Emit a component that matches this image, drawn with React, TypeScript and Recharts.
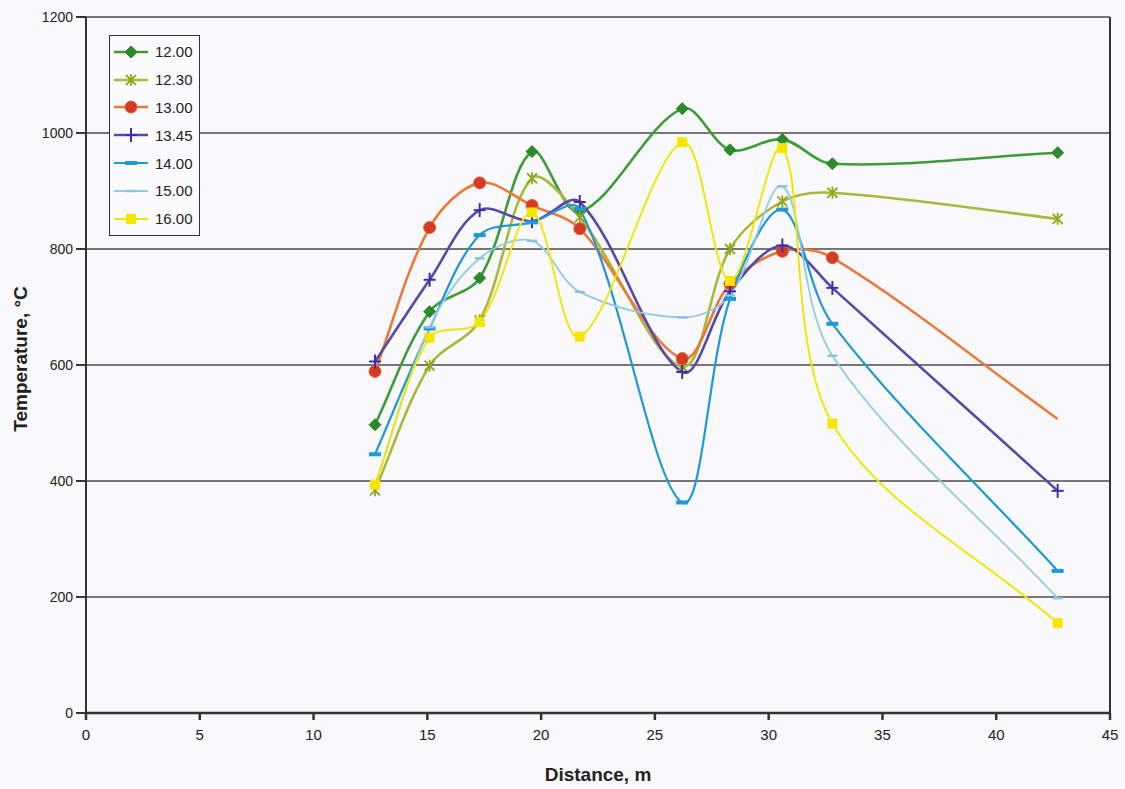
import React from "react";
import { CartesianGrid, Label, Legend, Line, LineChart, ReferenceLine, XAxis, YAxis } from "recharts";

// distance along the flue, m (same stations for every time)
const distance = [12.7, 15.1, 17.3, 19.6, 21.7, 26.2, 28.3, 30.6, 32.8, 42.7];

// temperatures, °C
const t1200 = [497, 692, 750, 968, 864, 1042, 971, 989, 947, 966];
const t1230 = [384, 599, 677, 922, 855, 597, 800, 882, 897, 852];
const t1300 = [589, 837, 914, 875, 835, 611, 740, 796, 785, 507];
const t1345 = [606, 747, 867, 848, 881, 588, 727, 806, 733, 383];
const t1400 = [446, 663, 824, 846, 869, 363, 714, 868, 671, 245];
const t1500 = [392, 665, 784, 814, 726, 682, 720, 908, 616, 198];
const t1600 = [394, 647, 674, 863, 649, 984, 745, 974, 499, 155];

const xTicks = [0, 5, 10, 15, 20, 25, 30, 35, 40, 45];
const yTicks = [0, 200, 400, 600, 800, 1000, 1200];

type Shape = "diamond" | "star" | "circle" | "plus" | "dash" | "thinDash" | "square";

interface SeriesDef {
  key: string;
  name: string;
  values: number[];
  stroke: string;
  width: number;
  marker: string;
  shape: Shape;
  noMarkerAtEnd?: boolean;
}

const series: SeriesDef[] = [
  { key: "s1200", name: "12.00", values: t1200, stroke: "#3c9c3a", width: 2.6, marker: "#2a8a2c", shape: "diamond" },
  { key: "s1230", name: "12.30", values: t1230, stroke: "#aab83a", width: 2.6, marker: "#8ea81e", shape: "star" },
  // the scan shows no marker on the last 13.00 point
  { key: "s1300", name: "13.00", values: t1300, stroke: "#e97a3c", width: 2.6, marker: "#d43a26", shape: "circle", noMarkerAtEnd: true },
  { key: "s1345", name: "13.45", values: t1345, stroke: "#5a48a8", width: 2.6, marker: "#3a2fb0", shape: "plus" },
  { key: "s1400", name: "14.00", values: t1400, stroke: "#1f98d5", width: 2.2, marker: "#1f98d5", shape: "dash" },
  { key: "s1500", name: "15.00", values: t1500, stroke: "#92cbe6", width: 1.8, marker: "#86c2e2", shape: "thinDash" },
  { key: "s1600", name: "16.00", values: t1600, stroke: "#f2e500", width: 1.9, marker: "#f5e600", shape: "square" },
];

const rows = distance.map((x, i) => {
  const row: { [k: string]: number } = { x };
  series.forEach((s) => {
    row[s.key] = s.values[i];
  });
  return row;
});

// smoothed line through every point, tangents weighted by chord length
// (keeps short segments from overshooting next to long ones, like Excel does)
const excelSmooth = (context: any) => {
  let pts: number[][] = [];
  const dist = (a: number[], b: number[]) => Math.hypot(b[0] - a[0], b[1] - a[1]);
  return {
    areaStart() {},
    areaEnd() {},
    lineStart() {
      pts = [];
    },
    lineEnd() {
      if (!pts.length) return;
      context.moveTo(pts[0][0], pts[0][1]);
      const n = pts.length;
      const tan = pts.map((p, i) => {
        const a = pts[i - 1] || p;
        const b = pts[i + 1] || p;
        return [b[0] - a[0], b[1] - a[1], dist(a, p), dist(p, b)];
      });
      for (let i = 0; i < n - 1; i++) {
        const p1 = pts[i];
        const p2 = pts[i + 1];
        const t1 = tan[i];
        const t2 = tan[i + 1];
        const f1 = t1[3] / (t1[2] + t1[3] || 1) / 3;
        const f2 = t2[2] / (t2[2] + t2[3] || 1) / 3;
        context.bezierCurveTo(
          p1[0] + t1[0] * f1,
          p1[1] + t1[1] * f1,
          p2[0] - t2[0] * f2,
          p2[1] - t2[1] * f2,
          p2[0],
          p2[1]
        );
      }
    },
    point(x: number, y: number) {
      pts.push([+x, +y]);
    },
  };
};

const Marker = ({ shape, cx, cy, color }: { shape: Shape; cx: number; cy: number; color: string }) => {
  switch (shape) {
    case "diamond":
      return <polygon points={`${cx},${cy - 6} ${cx + 6},${cy} ${cx},${cy + 6} ${cx - 6},${cy}`} fill={color} stroke={color} strokeWidth={1} />;
    case "star":
      return (
        <g stroke={color} strokeWidth={1.8}>
          <line x1={cx - 5} y1={cy - 5} x2={cx + 5} y2={cy + 5} />
          <line x1={cx - 5} y1={cy + 5} x2={cx + 5} y2={cy - 5} />
          <line x1={cx} y1={cy - 6} x2={cx} y2={cy + 6} />
        </g>
      );
    case "circle":
      return <circle cx={cx} cy={cy} r={6} fill={color} stroke="#e0602e" strokeWidth={1} />;
    case "plus":
      return (
        <g stroke={color} strokeWidth={2}>
          <line x1={cx - 6} y1={cy} x2={cx + 6} y2={cy} />
          <line x1={cx} y1={cy - 7} x2={cx} y2={cy + 7} />
        </g>
      );
    case "dash":
      return <rect x={cx - 6} y={cy - 2} width={12} height={4} fill={color} />;
    case "thinDash":
      return <rect x={cx - 5} y={cy - 1.2} width={10} height={2.4} fill={color} />;
    case "square":
      return <rect x={cx - 5} y={cy - 5} width={10} height={10} fill={color} />;
    default:
      return null;
  }
};

const font = "'Liberation Sans', Arial, Helvetica, sans-serif";

const LegendBox = () => (
  <div
    style={{
      border: "1.5px solid #333",
      background: "#fbfbfd",
      padding: "2px 6px 2px 3px",
      width: 80,
    }}
  >
    {series.map((s) => (
      <div key={s.key} style={{ display: "flex", alignItems: "center", height: 27.8 }}>
        <svg width={36} height={16} style={{ display: "block" }}>
          <line x1={1} y1={8} x2={35} y2={8} stroke={s.stroke} strokeWidth={s.width} />
          <Marker shape={s.shape} cx={18} cy={8} color={s.marker} />
        </svg>
        <span style={{ marginLeft: 6, fontFamily: font, fontSize: 15, color: "#222" }}>{s.name}</span>
      </div>
    ))}
  </div>
);

const YTitle = () => (
  <text
    x={20}
    y={359}
    transform="rotate(-90, 20, 359)"
    textAnchor="middle"
    dominantBaseline="central"
    fontFamily={font}
    fontWeight="bold"
    fontSize={19}
    fill="#222"
  >
    Temperature, °C
  </text>
);

const App = () => {
  return (
    <div style={{ position: "absolute", left: 0, top: 0, width: 1125, height: 789, background: "#f9f9fb" }}>
      <LineChart width={1125} height={789} data={rows} margin={{ top: 17, right: 15, left: 0, bottom: 0 }}>
        <CartesianGrid vertical={false} stroke="#4a4a4a" strokeWidth={1.6} />
        <XAxis
          type="number"
          dataKey="x"
          domain={[0, 45]}
          ticks={xTicks}
          height={76}
          tickSize={7}
          tickMargin={9}
          stroke="#333"
          strokeWidth={2.5}
          tick={{ fill: "#222", fontSize: 15, fontFamily: font }}
        >
          <Label value="Distance, m" position="insideBottom" offset={8} fill="#222" fontSize={19} fontWeight="bold" fontFamily={font} />
        </XAxis>
        <YAxis
          type="number"
          domain={[0, 1200]}
          ticks={yTicks}
          width={86}
          tickSize={10}
          tickMargin={3}
          stroke="#333"
          strokeWidth={2}
          tick={{ fill: "#222", fontSize: 14, fontFamily: font }}
        >
          <Label content={<YTitle />} />
        </YAxis>
        <ReferenceLine x={45} stroke="#333" strokeWidth={2} />
        <Legend
          layout="horizontal"
          verticalAlign="middle"
          align="center"
          wrapperStyle={{ left: 109, top: 35, width: 92 }}
          content={() => <LegendBox />}
        />
        {series.map((s) => (
          <Line
            key={s.key}
            dataKey={s.key}
            name={s.name}
            type={excelSmooth as any}
            stroke={s.stroke}
            strokeWidth={s.width}
            isAnimationActive={false}
            dot={(p: any) =>
              s.noMarkerAtEnd && p.index === s.values.length - 1 ? (
                <g key={`${s.key}-${p.index}`} />
              ) : (
                <Marker key={`${s.key}-${p.index}`} shape={s.shape} cx={p.cx} cy={p.cy} color={s.marker} />
              )
            }
            activeDot={false}
          />
        ))}
      </LineChart>
    </div>
  );
};

export default App;
